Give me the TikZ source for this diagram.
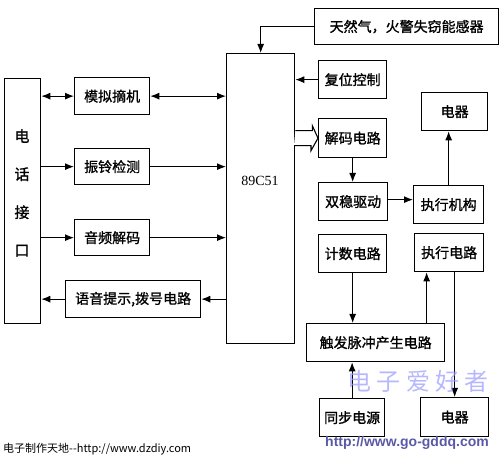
\documentclass[tikz,border=0pt]{standalone}
\usepackage{fontspec}
\setmainfont{Liberation Serif}
\newfontfamily\cjk{Noto Sans CJK SC}
\newfontfamily\cjkb{Noto Sans CJK SC}[FakeBold=1.2]
\newfontfamily\wsans{Liberation Sans}
\usetikzlibrary{arrows.meta,calc}
\begin{document}
\begin{tikzpicture}[x=1pt,y=-1pt,
  box/.style={draw, line width=1.3pt, inner sep=0pt, anchor=north west, font=\cjkb\fontsize{14}{16}\selectfont},
  conn/.style={line width=1.1pt, -{Latex[length=9pt,width=7pt]}},
  bi/.style={line width=1.1pt, {Latex[length=9pt,width=7pt]}-{Latex[length=9pt,width=7pt]}}]
\useasboundingbox (0,0) rectangle (504,457);
% left column
\node[box, minimum width=36pt, minimum height=245pt] (tel) at (4,78) {};
\node[align=center, font=\cjkb\fontsize{15}{38}\selectfont, inner sep=0pt] (teltxt) at (22,193) {电\\话\\接\\口};
\node[box, minimum width=75pt, minimum height=37pt] (mn) at (74,77) {模拟摘机};
\node[box, minimum width=75pt, minimum height=36pt] (zl) at (74,148) {振铃检测};
\node[box, minimum width=75pt, minimum height=36pt] (yp) at (74,219) {音频解码};
\node[box, minimum width=135pt, minimum height=37pt] (yy) at (65,280) {语音提示,拨号电路};
% MCU
\node[box, minimum width=68pt, minimum height=290pt] (mcu) at (226,53) {};
\node[font=\fontsize{14}{16}\selectfont] (mcutxt) at (260,181) {89C51};
% right side
\node[box, minimum width=184pt, minimum height=36pt] (sensor) at (314,8) {天然气，火警失窃能感器};
\node[box, minimum width=68pt, minimum height=38pt] (fw) at (318,60) {复位控制};
\node[box, minimum width=68pt, minimum height=39pt] (jm) at (318,118) {解码电路};
\node[box, minimum width=69pt, minimum height=38pt] (sw) at (318,182) {双稳驱动};
\node[box, minimum width=70pt, minimum height=38pt] (zxjg) at (413,185) {执行机构};
\node[box, minimum width=66pt, minimum height=38pt] (dq1) at (421,92) {电器};
\node[box, minimum width=68pt, minimum height=38pt] (js) at (318,234) {计数电路};
\node[box, minimum width=69pt, minimum height=38pt] (zxdl) at (414,233) {执行电路};
\node[box, minimum width=138pt, minimum height=38pt] (cf) at (306,323) {触发脉冲产生电路};
\node[box, minimum width=65pt, minimum height=38pt] (tb) at (319,398) {同步电源};
\node[box, minimum width=68pt, minimum height=39pt] (dq2) at (420,397) {电器};
% connectors left
\draw[bi] (mn.west -| tel.east) -- (mn.west);
\draw[bi] (mn.east) -- (mn.east -| mcu.west);
\draw[conn] (zl.west -| tel.east) -- (zl.west);
\draw[conn] (zl.east) -- (zl.east -| mcu.west);
\draw[conn] (yp.west -| tel.east) -- (yp.west);
\draw[conn] (yp.east) -- (yp.east -| mcu.west);
\draw[conn] (yy.east -| mcu.west) -- (yy.east);
\draw[conn] (yy.west) -- (yy.west -| tel.east);
% connectors right
\draw[conn] (sensor.west) -| (mcu.north);
\draw[conn] (fw.west) -- (fw.west -| mcu.east);
\draw[line width=1.1pt, fill=white] ($(mcu.east |- jm.west)+(0,-7.5)$) -- ++(17,0) -- ++(0,-5) -- (jm.west) -- ++(-7,12.5) -- ++(0,-5) -- ++(-17,0);
\draw[conn] (jm.south) -- (jm.south |- sw.north);
\draw[conn] ([yshift=2pt]sw.east) -- ([yshift=2pt]sw.east -| zxjg.west);
\draw[conn] (zxjg.north) -- (zxjg.north |- dq1.south);
\draw[conn] (js.south) -- (js.south |- cf.north);
\draw[conn] ([xshift=-22.5pt]zxdl.south |- cf.north) -- ([xshift=-22.5pt]zxdl.south);
\draw[conn] (dq2.north |- zxdl.south) -- (dq2.north);
\draw[conn] (tb.north) -- (tb.north |- cf.south);
% footer
\node[anchor=west, font=\cjk\fontsize{11}{13}\selectfont, inner sep=0pt] (foot) at (3,449) {电子制作天地--http://www.dzdiy.com};
% watermark
\node[font=\cjk\fontsize{24}{26}\selectfont, text=blue!40!white, opacity=0.7, inner sep=0pt] (wm) at (418,381) {电 子 爱 好 者};
\node[font=\wsans\bfseries\fontsize{14}{16}\selectfont, text=blue!30!gray, inner sep=0pt] (wmurl) at (407,443) {http://www.go-gddq.com};
\end{tikzpicture}
\end{document}
